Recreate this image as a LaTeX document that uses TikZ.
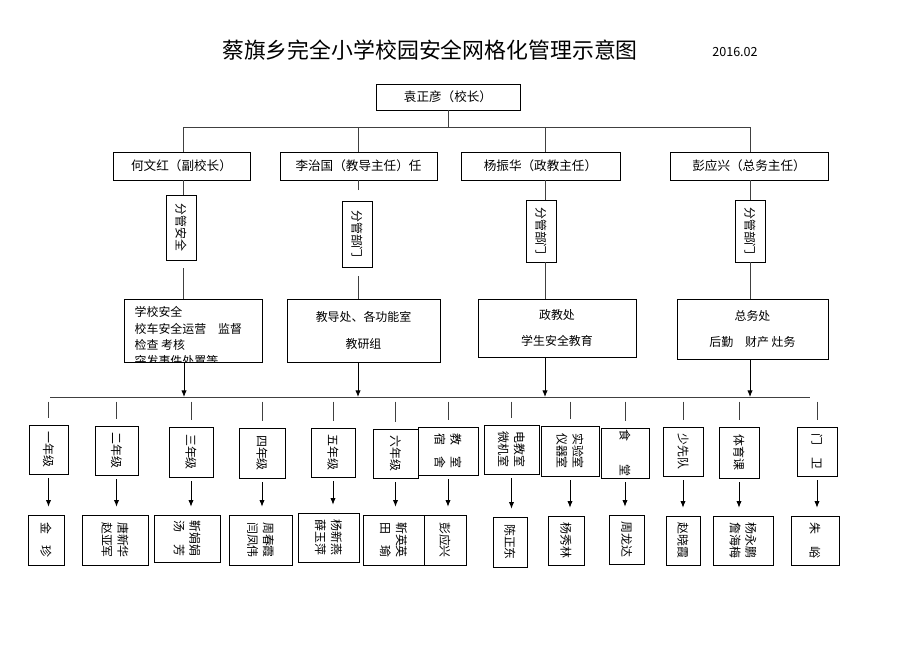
\documentclass[tikz,border=0pt]{standalone}
\usepackage{fontspec}
\setmainfont{Noto Sans CJK SC}
\usetikzlibrary{fit,arrows.meta}
\tikzset{
  box/.style={draw,inner sep=0pt,line width=0.6pt},
  vtext/.style={rotate=-90,font=\fontsize{9}{12}\selectfont,align=center},
  htext/.style={font=\fontsize{9.5}{13}\selectfont,align=left},
  arr/.style={-{Latex[length=5pt,width=4pt]},line width=0.6pt},
  ln/.style={line width=0.6pt,draw=black!75}
}
\newcommand{\bx}[5]{\node[box,fit={(#2,#3) (#4,#5)}] (#1) {};}
\begin{document}
\begin{tikzpicture}[x=0.0265cm,y=-0.0265cm]
\useasboundingbox (0,0) rectangle (920,651);
% title
\node[font=\fontsize{16.5}{20}\selectfont] (title) at (430,50) {蔡旗乡完全小学校园安全网格化管理示意图};
\node[font=\fontsize{9.5}{12}\selectfont] (date) at (735,52) {2016.02};
% principal
\bx{head}{376}{84}{520}{110}
\node[htext] at (head.center) {袁正彦（校长）};
\coordinate (top) at (448,127);
\draw[ln] (head.south) -- (top);
\draw[ln] (183,127) -- (750,127);
% deputies
\bx{he}{113}{152}{250}{180}
\node[htext] at (he.center) {何文红（副校长）};
\bx{li}{280}{152}{437}{180}
\node[htext] at (li.center) {李治国（教导主任）任};
\bx{yang}{461}{152}{620}{180}
\node[htext] at (yang.center) {杨振华（政教主任）};
\bx{peng}{670}{152}{828}{180}
\node[htext] at (peng.center) {彭应兴（总务主任）};
\foreach \n/\x in {he/183,li/358,yang/545,peng/750}
  \draw[ln] (\x,127) -- (\n.north -| \x,0);
% charge boxes
\bx{c1}{166}{195}{196}{260}
\node[vtext] at (c1.center) {分管安全};
\bx{c2}{342}{201}{372}{267}
\node[vtext] at (c2.center) {分管部门};
\bx{c3}{526}{200}{556}{262}
\node[vtext] at (c3.center) {分管部门};
\bx{c4}{735}{200}{765}{262}
\node[vtext] at (c4.center) {分管部门};
% offices
\bx{o1}{124}{299}{262}{362}
\bx{o2}{287}{299}{440}{362}
\bx{o3}{478}{299}{636}{357}
\bx{o4}{677}{299}{828}{359}
\begin{scope}
\clip (o1.south west) rectangle (o1.north east);
\node[htext,anchor=north west,font=\fontsize{9}{12.3}\selectfont] at (130,302)
  {学校安全\\校车安全运营\quad 监督\\检查\ 考核\\突发事件处置等};
\end{scope}
\node[htext,align=center,font=\fontsize{9}{12}\selectfont] at (o2.center) {教导处、各功能室\\[8pt]教研组};
\node[htext,align=center,font=\fontsize{9}{12}\selectfont] at (o3.center) {政教处\\[8pt]学生安全教育};
\node[htext,align=center,font=\fontsize{9}{12}\selectfont] at (o4.center) {总务处\\[8pt]后勤\quad 财产\ 灶务};
\draw[ln] (he.south -| 183,0) -- (c1.north -| 183,0);
\draw[ln] (183,268) -- (o1.north -| 183,0);
\draw[ln] (358,190) -- (358,180); % short stub
\draw[ln] (358,276) -- (o2.north -| 358,0);
\draw[ln] (yang.south -| 545,0) -- (c3.north -| 545,0);
\draw[ln] (c3.south -| 545,0) -- (o3.north -| 545,0);
\draw[ln] (peng.south -| 750,0) -- (c4.north -| 750,0);
\draw[ln] (c4.south -| 750,0) -- (o4.north -| 750,0);
% bus
\draw[ln] (50,397) -- (810,397);
\foreach \n/\x in {o1/184,o2/358,o3/545,o4/750}
  \draw[arr] (\n.south -| \x,0) -- (\x,397);
% grades and teams
\foreach \i/\xa/\xb/\ya/\yb/\txt/\na/\nb/\nya/\nyb/\who in {
  1/29/68/425/474/一年级/28/64/515/565/金\quad 珍,
  2/95/138/426/475/二年级/82/148/515/565/唐新华\\赵亚军,
  3/169/213/427/477/三年级/154/220/515/562/靳娟娟\\汤\quad 芳,
  4/239/285/428/478/四年级/229/292/515/565/周春霞\\闫凤伟,
  5/311/355/428/477/五年级/298/359/513/562/杨新燕\\薛玉萍,
  6/373/418/429/478/六年级/363/424/515/565/靳英英\\田\quad 瑜,
  7/418/478/427/475/教\quad 室\\宿\quad 舍/424/466/515/565/彭应兴,
  8/484/539/425/474/电教室\\微机室/493/527/517/567/陈正东,
  9/541/599/426/476/实验室\\仪器室/548/584/516/565/杨秀林,
  10/601/649/428/478/食\quad\quad 堂/609/644/515/564/周龙达,
  11/663/703/427/476/少先队/666/700/516/565/赵晓霞,
  12/719/759/427/478/体育课/713/773/516/565/杨永鹏\\詹海梅,
  13/797/837/427/476/门\quad 卫/791/839/516/565/朱\quad 峪}
{
  \bx{g\i}{\xa}{\ya}{\xb}{\yb}
  \node[vtext] at (g\i.center) {\txt};
  \bx{t\i}{\na}{\nya}{\nb}{\nyb}
  \node[vtext] at (t\i.center) {\who};
  \draw[ln] ([yshift=-3.5pt]g\i.north |- 0,397) -- ([yshift=5pt]g\i.north);
  \draw[arr,shorten <=3pt,shorten >=6pt] (g\i.south) -- (g\i.south |- t\i.north);
}
\end{tikzpicture}
\end{document}
